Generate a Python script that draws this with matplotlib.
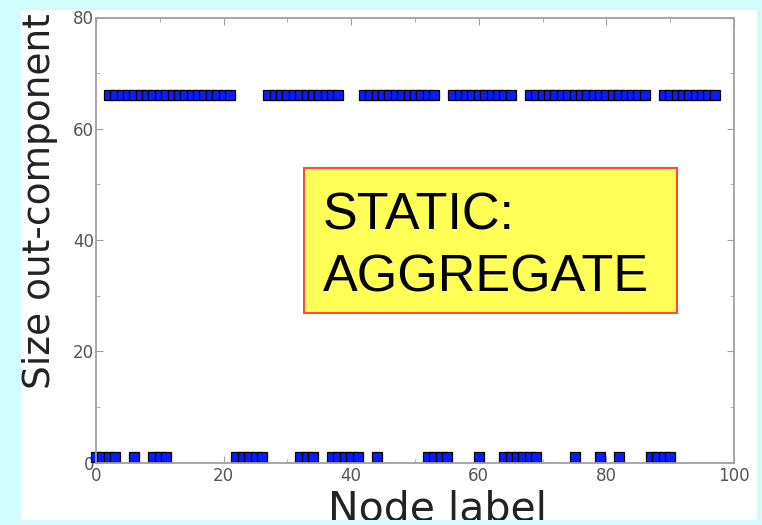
import matplotlib
matplotlib.use('Agg')
import matplotlib.pyplot as plt
from matplotlib.patches import Rectangle
from matplotlib.ticker import MultipleLocator

# node labels
top_nodes = [2, 3, 4, 5, 6, 7, 8, 9, 10, 11, 12, 13, 14, 15, 16, 17, 18, 19, 20, 21,
             27, 28, 29, 30, 31, 32, 33, 34, 35, 36, 37, 38,
             42, 43, 44, 45, 46, 47, 48, 49, 50, 51, 52, 53,
             56, 57, 58, 59, 60, 61, 62, 63, 64, 65,
             68, 69, 70, 71, 72, 73, 74, 75, 76, 77, 78, 79, 80, 81, 82, 83, 84, 85, 86,
             89, 90, 91, 92, 93, 94, 95, 96, 97]
bottom_nodes = [0, 1, 2, 3, 6, 9, 10, 11, 22, 23, 24, 25, 26, 32, 33, 34,
                37, 38, 39, 40, 41, 44, 52, 53, 54, 55, 60, 64, 65, 66, 67, 68, 69,
                75, 79, 82, 87, 88, 89, 90]
top_size = 66
bottom_size = 1

xticks = [0, 20, 40, 60, 80, 100]
yticks = [0, 20, 40, 60, 80]

W, H = 762, 525
fig = plt.figure(figsize=(W / 100, H / 100), dpi=100, facecolor='#d2fcfc')

# white slide area
fig.patches.append(Rectangle((21 / W, 1 - 520 / H), (757 - 21) / W, (520 - 10) / H,
                             transform=fig.transFigure, facecolor='white',
                             edgecolor='none', zorder=0))

ax = fig.add_axes([96 / W, 1 - 462.5 / H, (734 - 96) / W, (462.5 - 17.5) / H])
ax.set_facecolor('none')
ax.set_zorder(1)

ax.plot(top_nodes, [top_size] * len(top_nodes), 's', color='#0a1cff',
        mec='black', mew=0.9, ms=7.9, clip_on=False)
ax.plot(bottom_nodes, [bottom_size] * len(bottom_nodes), 's', color='#0a1cff',
        mec='black', mew=0.9, ms=7.9, clip_on=False)

ax.set_xlim(0, 100)
ax.set_ylim(0, 80)
ax.set_xticks(xticks)
ax.set_yticks(yticks)
ax.xaxis.set_minor_locator(MultipleLocator(10))
ax.yaxis.set_minor_locator(MultipleLocator(10))
for s in ax.spines.values():
    s.set_color('#a0a0a0')
    s.set_linewidth(1.3)
ax.tick_params(which='both', direction='in', top=True, right=True, color='#a0a0a0')
ax.tick_params(which='major', length=5, labelsize=12, labelcolor='#555555')
ax.tick_params(which='minor', length=3)
ax.tick_params(axis='y', pad=1.5)
ax.tick_params(axis='x', pad=3)

# axis labels
fig.text(438 / W, 1 - 520.5 / H, 'Node label', fontsize=29.5, color='#222222',
         ha='center', va='baseline')
fig.text(50.5 / W, 1 - 201.5 / H, 'Size out-component', fontsize=27, color='#222222',
         rotation=90, rotation_mode='anchor', ha='center', va='baseline')

# annotation box
fig.patches.append(Rectangle((304 / W, 1 - 313 / H), (677 - 304) / W, (313 - 168) / H,
                             transform=fig.transFigure, facecolor='#ffff55',
                             edgecolor='#ff4d3d', lw=1.5, zorder=5))
fig.text(323 / W, 1 - 230 / H, 'STATIC:', fontsize=37.5, family='Liberation Sans',
         ha='left', va='baseline', zorder=6)
fig.text(323 / W, 1 - 291.7 / H, 'AGGREGATE', fontsize=37.5, family='Liberation Sans',
         ha='left', va='baseline', zorder=6)

# cyan frame drawn over anything that spills out
frame = '#d2fcfc'
fig.patches.append(Rectangle((0, 0), 1, 5 / H, transform=fig.transFigure,
                             facecolor=frame, edgecolor='none', zorder=10))
fig.patches.append(Rectangle((0, 1 - 10 / H), 1, 10 / H, transform=fig.transFigure,
                             facecolor=frame, edgecolor='none', zorder=10))
fig.patches.append(Rectangle((0, 0), 21 / W, 1, transform=fig.transFigure,
                             facecolor=frame, edgecolor='none', zorder=10))
fig.patches.append(Rectangle((757 / W, 0), 5 / W, 1, transform=fig.transFigure,
                             facecolor=frame, edgecolor='none', zorder=10))

fig.savefig('out.png', dpi=100, facecolor=fig.get_facecolor())
